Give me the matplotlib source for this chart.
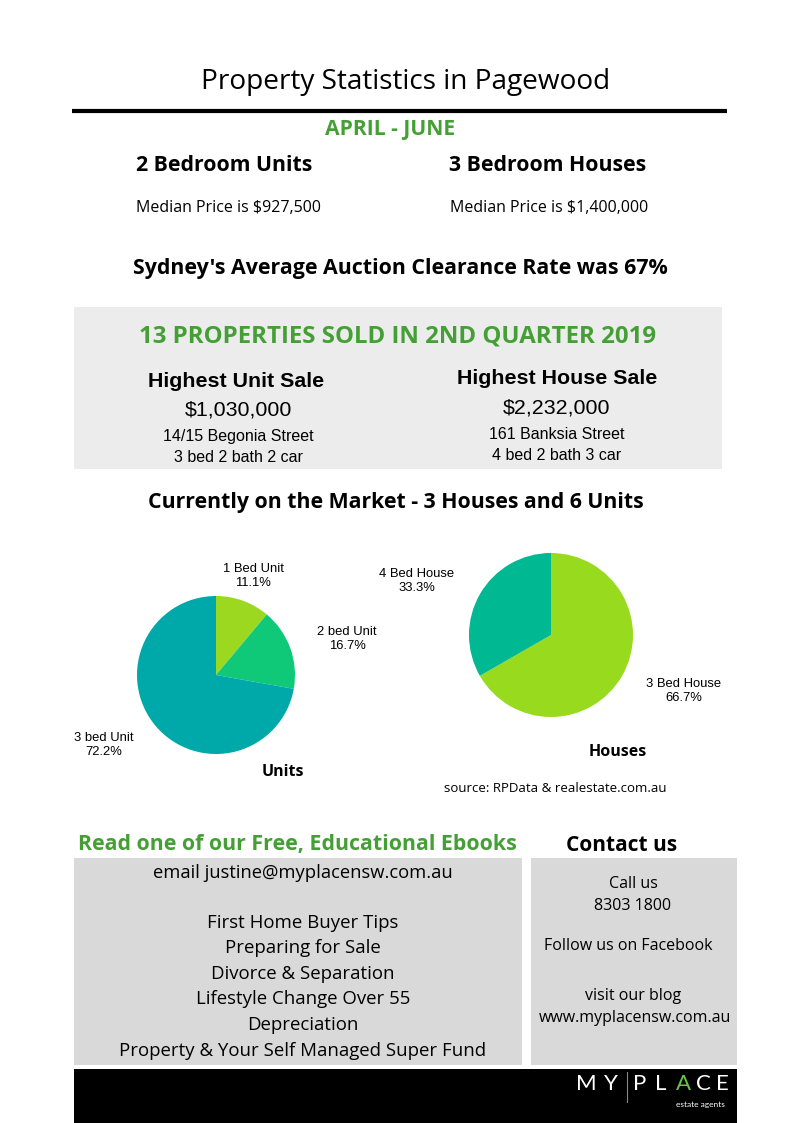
import matplotlib
matplotlib.use("Agg")
import matplotlib.pyplot as plt
from matplotlib.patches import Rectangle

# ---- data ----
unit_labels = ["1 Bed Unit", "2 bed Unit", "3 bed Unit"]
unit_values = [11.1, 16.7, 72.2]
unit_colors = ["#9bd81f", "#10c978", "#00a9a9"]

house_labels = ["3 Bed House", "4 Bed House"]
house_values = [66.7, 33.3]
house_colors = ["#98db1e", "#00b892"]

ebooks = ["First Home Buyer Tips", "Preparing for Sale", "Divorce & Separation",
          "Lifestyle Change Over 55", "Depreciation",
          "Property & Your Self Managed Super Fund"]

GREEN = "#44a035"
W, H = 794, 1123
fig = plt.figure(figsize=(W / 100, H / 100), dpi=100)
fig.patch.set_facecolor("white")
bg = fig.add_axes([0, 0, 1, 1])
bg.set_xlim(0, W)
bg.set_ylim(H, 0)
bg.axis("off")

OS = ["Open Sans", "DejaVu Sans"]
NAR = ["Liberation Sans Narrow", "Liberation Sans", "DejaVu Sans"]
LIB = ["Liberation Sans", "DejaVu Sans"]
LATO = ["Lato", "DejaVu Sans"]

def t(x, y, s, size, weight="normal", color="black", family=OS, ha="center"):
    dy = 2.5 if family is OS else (1.5 if family is NAR else 0)
    bg.text(x, y + dy, s, fontsize=size, fontweight=weight, color=color,
            family=family, ha=ha, va="center")

# header
t(406, 80, "Property Statistics in Pagewood", 20.2)
bg.plot([72, 727], [111, 111], color="black", lw=3, solid_capstyle="butt")
t(390, 127, "APRIL - JUNE", 15.2, "bold", GREEN)
t(224, 163, "2 Bedroom Units", 15.3, "bold")
t(548, 163, "3 Bedroom Houses", 15.3, "bold")
t(228, 205, "Median Price is $927,500", 11.5)
t(549, 205, "Median Price is $1,400,000", 11.5)
t(400, 266, "Sydney's Average Auction Clearance Rate was 67%", 15.4, "bold")

# sold box
bg.add_patch(Rectangle((74, 307), 648, 162, color="#ececec", lw=0))
t(398, 334, "13 PROPERTIES SOLD IN 2ND QUARTER 2019", 17.3, "bold", GREEN)
t(236, 380, "Highest Unit Sale", 15.4, "bold", family=NAR)
t(238, 408, "$1,030,000", 15.4, family=NAR)
t(238, 435, "14/15 Begonia Street", 11.5, family=NAR)
t(238, 456, "3 bed 2 bath 2 car", 11.5, family=NAR)
t(557, 377, "Highest House Sale", 15.4, "bold", family=NAR)
t(557, 407, "$2,232,000", 15.4, family=NAR)
t(557, 433, "161 Banksia Street", 11.5, family=NAR)
t(557, 454, "4 bed 2 bath 3 car", 11.5, family=NAR)

t(396, 500, "Currently on the Market - 3 Houses and 6 Units", 15.3, "bold")

# pies
def pie_axes(cx, cy, r, values, colors):
    ax = fig.add_axes([(cx - r) / W, 1 - (cy + r) / H, 2 * r / W, 2 * r / H])
    ax.pie(values, colors=colors, startangle=90, counterclock=False,
           radius=1.0, wedgeprops=dict(linewidth=0))
    ax.set_xlim(-1, 1)
    ax.set_ylim(-1, 1)
    ax.set_aspect("auto")
    ax.axis("off")
    return ax

pie_axes(216, 675, 79, unit_values, unit_colors)
pie_axes(551, 635, 82, house_values, house_colors)

unit_pos = [(253, 576), (347, 639), (104, 745)]
for (x, y), lab, v in zip(unit_pos, unit_labels, unit_values):
    t(x, y, f"{lab}\n{v:.1f}%", 9.4, family=LIB)
t(283, 769, "Units", 11.5, "bold")

house_pos = [(684, 691), (417, 581)]
for (x, y), lab, v in zip(house_pos, house_labels, house_values):
    t(x, y, f"{lab}\n{v:.1f}%", 9.4, family=LIB)
t(618, 750, "Houses", 11.5, "bold")
t(555, 786, "source: RPData & realestate.com.au", 9.5)

# ebooks / contact
t(297, 842, "Read one of our Free, Educational Ebooks", 15.4, "bold", GREEN)
t(622, 843, "Contact us", 15, "bold")
bg.add_patch(Rectangle((74, 858), 448, 207, color="#d9d9d9", lw=0))
bg.add_patch(Rectangle((531, 858), 206, 207, color="#d9d9d9", lw=0))
t(303, 871, "email justine@myplacensw.com.au", 13.2)
for i, line in enumerate(ebooks):
    t(303, 920 + i * 25.6, line, 13.4)
t(633, 881, "Call us", 11.5)
t(633, 903, "8303 1800", 11.5)
t(628, 944, "Follow us on Facebook", 11.5)
t(633, 994, "visit our blog", 11.5)
t(635, 1016, "www.myplacensw.com.au", 11.5)

# footer bar + logo
bg.add_patch(Rectangle((74, 1069), 663, 54, color="black", lw=0))
logo_letters = ["M", "Y", "P", "L", "A", "C", "E"]
logo_x = [586, 611, 640, 661, 683, 703, 722]
for ch, x in zip(logo_letters, logo_x):
    bg.text(x, 1084, ch, fontsize=16, fontweight="normal",
            color="#6cc24a" if ch == "A" else "white",
            family=LATO, ha="center", va="center")
bg.plot([627, 627], [1072, 1102], color="#888888", lw=0.8)
bg.text(700, 1104, "estate agents", fontsize=6, color="white", family=LATO,
        ha="center", va="center")

fig.savefig("out.png", dpi=100, facecolor="white")
